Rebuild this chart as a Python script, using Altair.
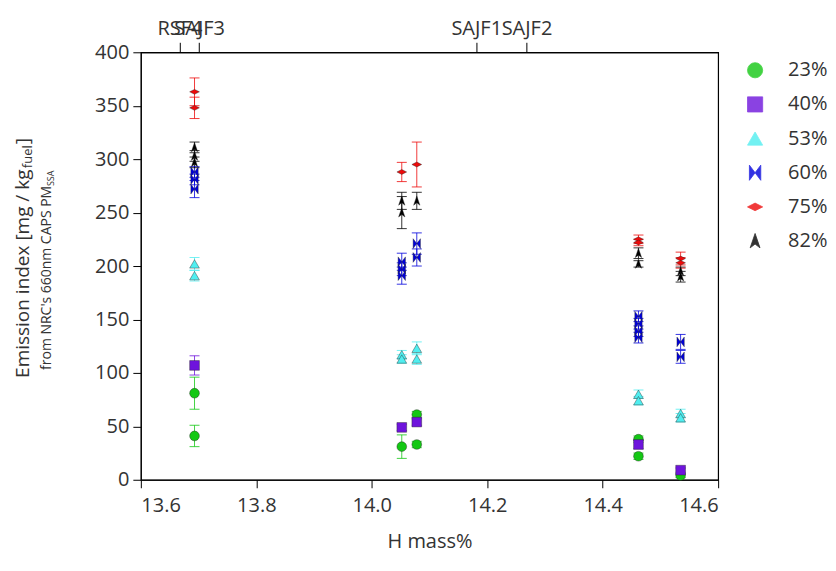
import altair as alt
import pandas as pd

# ---------------- data ----------------
series = ["23%", "40%", "53%", "60%", "75%", "82%"]
colors = ["#14c814", "#6e14dc", "#50eef0", "#0000dc", "#ee0a0a", "#000000"]
shapes = [
    "circle",
    "square",
    "triangle-up",
    "M-0.75,-1L0,0L-0.75,1ZM0.75,-1L0,0L0.75,1Z",
    "M-1,0L0,-0.5L1,0L0,0.5Z",
    "M0,-1L0.65,0.9L0,0.4L-0.65,0.9Z",
]

h23 = [13.693, 13.693, 14.052, 14.078, 14.078, 14.462, 14.462, 14.535]
v23 = [81, 41, 31, 61, 33, 38, 22, 4]
e23 = [15, 10, 11, 3, 3, 3, 3, 2]

h40 = [13.693, 14.052, 14.078, 14.462, 14.535]
v40 = [107, 49, 54, 33, 9]
e40 = [9, 3, 3, 4, 2]

h53 = [13.693, 13.693, 14.052, 14.052, 14.078, 14.078, 14.462, 14.462, 14.535, 14.535]
v53 = [202, 191, 117, 113, 123, 113, 80, 74, 62, 58]
e53 = [6, 5, 4, 4, 6, 5, 4, 4, 4, 4]

h60 = [13.693, 13.693, 13.693, 14.052, 14.052, 14.052, 14.078, 14.078,
       14.462, 14.462, 14.462, 14.462, 14.535, 14.535]
v60 = [288, 281, 272, 204, 197, 191, 221, 208, 153, 146, 139, 133, 129, 115]
e60 = [5, 5, 8, 8, 6, 8, 10, 8, 5, 5, 5, 5, 7, 6]

h75 = [13.693, 13.693, 14.052, 14.078, 14.462, 14.462, 14.535, 14.535]
v75 = [363, 348, 288, 295, 225, 222, 207, 203]
e75 = [13, 10, 9, 21, 4, 3, 6, 5]

h82 = [13.693, 13.693, 13.693, 14.052, 14.052, 14.078, 14.462, 14.462, 14.535, 14.535]
v82 = [311, 303, 297, 261, 250, 261, 212, 202, 195, 190]
e82 = [5, 5, 5, 8, 15, 8, 5, 3, 4, 5]

top_names = ["RSF4", "SAJF3", "SAJF1", "SAJF2"]
top_pos = [13.667, 13.701, 14.181, 14.268]

x_ticks = [13.6, 13.8, 14.0, 14.2, 14.4, 14.6]
y_ticks = [0, 50, 100, 150, 200, 250, 300, 350, 400]

# ---------------- table ----------------
rows = []
for name, hs, vs, es in zip(series, [h23, h40, h53, h60, h75, h82],
                            [v23, v40, v53, v60, v75, v82],
                            [e23, e40, e53, e60, e75, e82]):
    for h, v, e in zip(hs, vs, es):
        rows.append({"h": h, "v": v, "lo": v - e, "hi": v + e, "s": name})
df = pd.DataFrame(rows)
top_df = pd.DataFrame({"pos": top_pos, "name": top_names})

FONT = "Open Sans"
xscale = alt.Scale(domain=[13.6, 14.6], nice=False, zero=False)
yscale = alt.Scale(domain=[0, 400], nice=False)
cscale = alt.Scale(domain=series, range=colors)
sscale = alt.Scale(domain=series, range=shapes)

label_expr = ""
for p, n in zip(top_pos, top_names):
    label_expr += f"abs(datum.value - {p}) < 1e-6 ? '{n}' : "
label_expr += "''"

base = alt.Chart(df)

x_bottom = alt.X("h:Q", scale=xscale,
                 axis=alt.Axis(values=x_ticks, format=".1f", title="H mass%",
                               titlePadding=16))
x_none = alt.X("h:Q", scale=xscale, axis=None)
y_axis = alt.Y("v:Q", scale=yscale,
               axis=alt.Axis(values=y_ticks, title=None))

legend = alt.Legend(orient="none", legendX=605, legendY=8,
                    symbolSize=230, labelFontSize=20,
                    labelFont=FONT, labelColor="#333333",
                    rowPadding=14.2, labelOffset=23,
                    symbolStrokeWidth=0.8,
                    symbolStrokeColor="#333333")
color_enc = alt.Color("s:N", scale=cscale, title=None, legend=legend)
shape_enc = alt.Shape("s:N", scale=sscale, title=None, legend=legend)

rules = base.mark_rule(strokeWidth=1, opacity=0.8).encode(
    x=x_none,
    y=alt.Y("lo:Q", scale=yscale),
    y2="hi:Q",
    color=color_enc,
)
cap_hi = base.mark_tick(orient="horizontal", size=10, thickness=1, opacity=0.8).encode(
    x=x_none,
    y=alt.Y("hi:Q", scale=yscale),
    color=color_enc,
)
cap_lo = base.mark_tick(orient="horizontal", size=10, thickness=1, opacity=0.8).encode(
    x=x_none,
    y=alt.Y("lo:Q", scale=yscale),
    color=color_enc,
)
points = base.mark_point(filled=True, size=95, opacity=1, stroke="#222222",
                         strokeWidth=0.4).encode(
    x=x_bottom,
    y=y_axis,
    color=color_enc,
    shape=shape_enc,
)
top_axis = alt.Chart(top_df).mark_tick(opacity=0).encode(
    x=alt.X("pos:Q", scale=xscale,
            axis=alt.Axis(orient="top", values=top_pos, labelExpr=label_expr,
                          title=None, tickSize=10, labelPadding=4,
                          labelOverlap=False, labelBound=False)),
)

one = pd.DataFrame({"a": [0]})
def label(text, x, y, size):
    return alt.Chart(one).mark_text(angle=270, align="left", baseline="middle",
                                    font=FONT, fontSize=size, color="#333333").encode(
        x=alt.value(x), y=alt.value(y), text=alt.value(text))

t1 = label("Emission index  [mg / kg", -118, 326, 19)
t2 = label("fuel", -113, 116, 13)
t3 = label("]", -118, 92, 19)
t4 = label("from NRC's 660nm CAPS PM", -94, 318, 14)
t5 = label("SSA", -90, 134, 9)

chart = alt.layer(rules, cap_hi, cap_lo, points, top_axis, t1, t2, t3, t4, t5).resolve_axis(
    x="independent"
).properties(
    width=578, height=428,
    autosize=alt.AutoSizeParams(type="none"),
    padding={"left": 133, "top": 44, "right": 110, "bottom": 80},
).configure_view(
    stroke="black", strokeWidth=1.2
).configure_axis(
    grid=False, domainColor="black", tickColor="black", tickSize=8,
    labelFont=FONT, labelFontSize=20, labelColor="#333333",
    titleFont=FONT, titleFontSize=20, titleColor="#333333", titleFontWeight="normal",
    labelPadding=4,
).configure_axisX(labelPadding=8)

chart.save("out.html", embed_options={"renderer": "svg", "actions": False})
